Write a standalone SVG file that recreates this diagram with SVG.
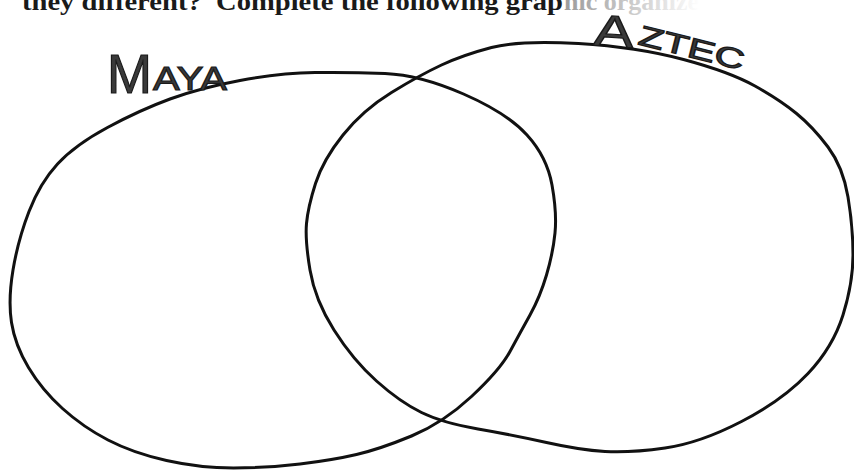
<svg xmlns="http://www.w3.org/2000/svg" width="854" height="471" viewBox="0 0 854 471">
<defs>
<linearGradient id="fade" gradientUnits="userSpaceOnUse" x1="563" y1="0" x2="700" y2="0">
<stop offset="0" stop-color="#9a9a9a"/>
<stop offset="0.6" stop-color="#d4d4d4"/>
<stop offset="1" stop-color="#ffffff"/>
</linearGradient>
</defs>
<style>
.ring{fill:none;stroke:#111;stroke-width:3;stroke-linejoin:round;stroke-linecap:round}
.hand{font-family:"Liberation Sans","DejaVu Sans",sans-serif;fill:#3a3a3a;stroke:#1a1a1a;stroke-width:1.2}
.hdr{font-family:"Liberation Serif","DejaVu Serif",serif;font-weight:bold;font-size:26px}
</style>
<rect width="854" height="471" fill="#fff"/>
<g id="header">
<text class="hdr" x="22" y="9.5" fill="#1a1a1a" textLength="541" lengthAdjust="spacingAndGlyphs" xml:space="preserve">they different?  Complete the following grap</text>
<text class="hdr" x="564" y="9.5" fill="url(#fade)">hic organizer</text>
</g>
<g id="maya">
<path class="ring" d="M315,72.5 Q350,72 385,73.5 Q420,75 463.5,94 Q507,113 527,135 Q547,157 552,185 Q557,213 555,233 Q553,253 546.5,275 Q540,297 530,315 Q520,333 510,351.5 Q500,370 471.5,396.5 Q443,423 411.5,436 Q380,449 356.5,454.5 Q333,460 300,464 Q267,468 233.5,468 Q200,468 166.5,460.5 Q133,453 108,440 Q83,427 62.5,408.5 Q42,390 28.5,367.5 Q15,345 11.5,322.5 Q8,300 13,270 Q18,240 29,211.5 Q40,183 57.5,164 Q75,145 107.5,127.5 Q140,110 170,99 Q200,88 240,80.5 Q280,73 315,72.5 Z"/>
<text class="hand" x="107" y="93" font-size="55" textLength="45" lengthAdjust="spacingAndGlyphs">M</text>
<text class="hand" x="153" y="90" font-size="34" textLength="74" lengthAdjust="spacingAndGlyphs">AYA</text>
</g>
<g id="aztec">
<path class="ring" d="M491.5,47.5 Q520,40 578.5,43.5 Q637,47 683.5,59.5 Q730,72 755,86 Q780,100 796.5,113.5 Q813,127 828,147 Q843,167 848,197 Q853,227 853,255 Q853,283 843,315 Q833,347 808,373.5 Q783,400 741.5,421.5 Q700,443 665,448 Q630,453 605,451.5 Q580,450 546.5,442.5 Q513,435 478,429 Q443,423 421.5,412.5 Q400,402 376.5,381 Q353,360 334,330 Q315,300 310,270 Q305,240 306.5,223.5 Q308,207 315.5,183.5 Q323,160 343,135 Q363,110 391.5,92.5 Q420,75 441.5,65 Q463,55 491.5,47.5 Z"/>
<text class="hand" x="593" y="45" font-size="44" textLength="40" lengthAdjust="spacingAndGlyphs" transform="rotate(4 593 45)">A</text>
<text class="hand" x="637" y="44" font-size="28" textLength="108" lengthAdjust="spacingAndGlyphs" transform="rotate(14 637 44)">ZTEC</text>
</g>
</svg>
